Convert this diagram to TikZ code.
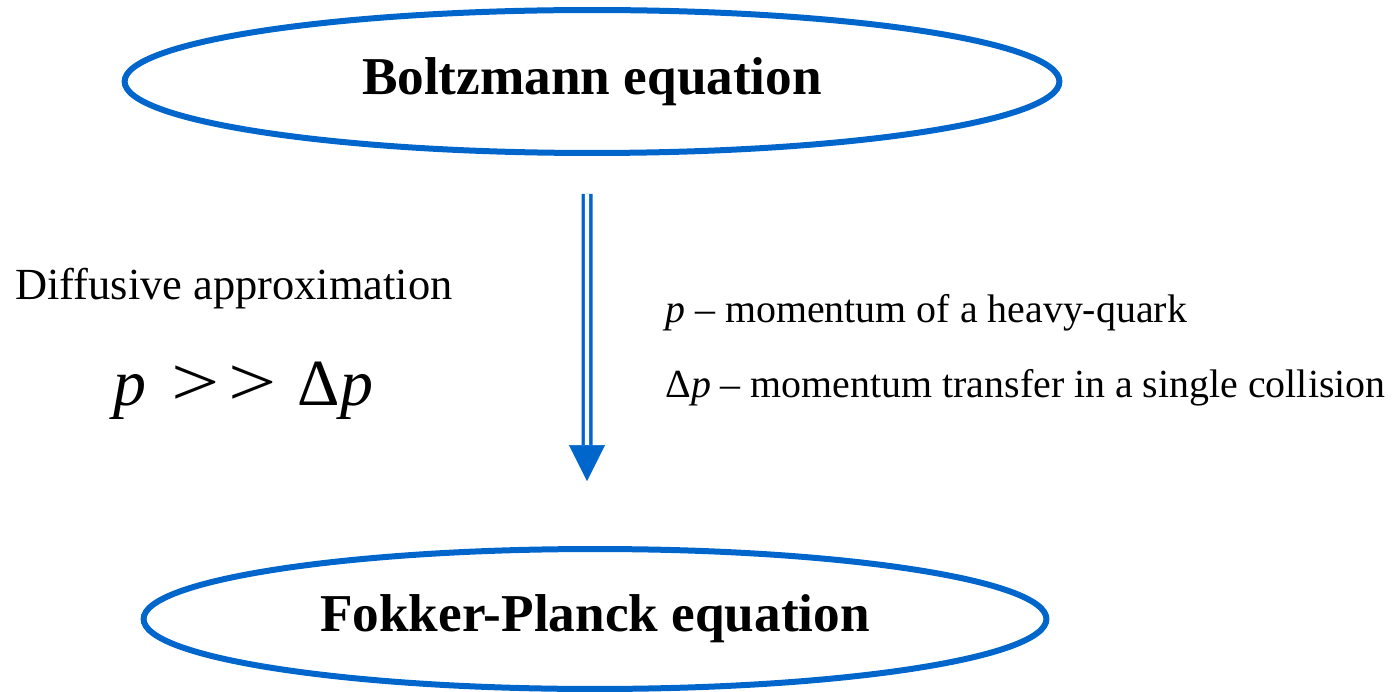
\documentclass[tikz,border=0pt]{standalone}
\usepackage{fontspec}
\setmainfont{Liberation Serif}
\usepackage{tikz}
\usetikzlibrary{shapes.geometric,arrows.meta,positioning,calc}
\definecolor{eqblue}{HTML}{0066CC}
\tikzset{
  eqbox/.style={ellipse, draw=eqblue, line width=0.12cm, inner sep=0pt, align=center, font=\fontsize{30.3}{36}\selectfont\bfseries},
  lefttext/.style={inner sep=0pt, anchor=base west, font=\fontsize{25.3}{30}\selectfont},
  bigrel/.style={inner sep=0pt, anchor=base west, font=\fontsize{37.5}{44}\selectfont},
  note/.style={inner sep=0pt, anchor=base west, font=\fontsize{22.7}{27}\selectfont},
  shaft/.style={draw=eqblue, line width=0.066cm, double=white, double distance=0.088cm},
  head/.style={eqblue, line width=0.01cm, -{Triangle[width=0.72cm, length=0.72cm]}},
}
\newcommand{\bigger}{\scalebox{1.3}[1.05]{>}}
\begin{document}
\begin{tikzpicture}[x=0.02cm, y=-0.02cm]
  \useasboundingbox (0,0) rectangle (1392,692);
  \node[eqbox, minimum width=18.7cm, minimum height=2.86cm] (boltz) at (592,81.5) {Boltzmann equation};
  \node[eqbox, minimum width=18.06cm, minimum height=2.8cm] (fokker) at (595,619) {Fokker-Planck equation};
  % left side
  \node[lefttext] (diffusive) at (15,300) {Diffusive approximation};
  \node[bigrel] (limit) at (113,405) {\textit{p}\hspace{0.5cm}\bigger\hspace{0.18cm}\bigger\hspace{0.42cm}Δ\textit{p}};
  % right side
  \node[note] (pdef) at (665,322) {\textit{p} – momentum of a heavy-quark};
  \node[note] (dpdef) at (665,397) {Δ\textit{p} – momentum transfer in a single collision};
  % arrow
  \coordinate (flowtop) at ([xshift=-0.1cm, yshift=-0.76cm]boltz.south);
  \coordinate (flowtip) at ([xshift=-0.16cm, yshift=1.3cm]fokker.north);
  \coordinate (flowbase) at ($(flowtip)+(0,-36)$);
  \draw[shaft] (flowtop) -- (flowbase);
  \draw[head] (flowbase) -- (flowtip);
\end{tikzpicture}
\end{document}
